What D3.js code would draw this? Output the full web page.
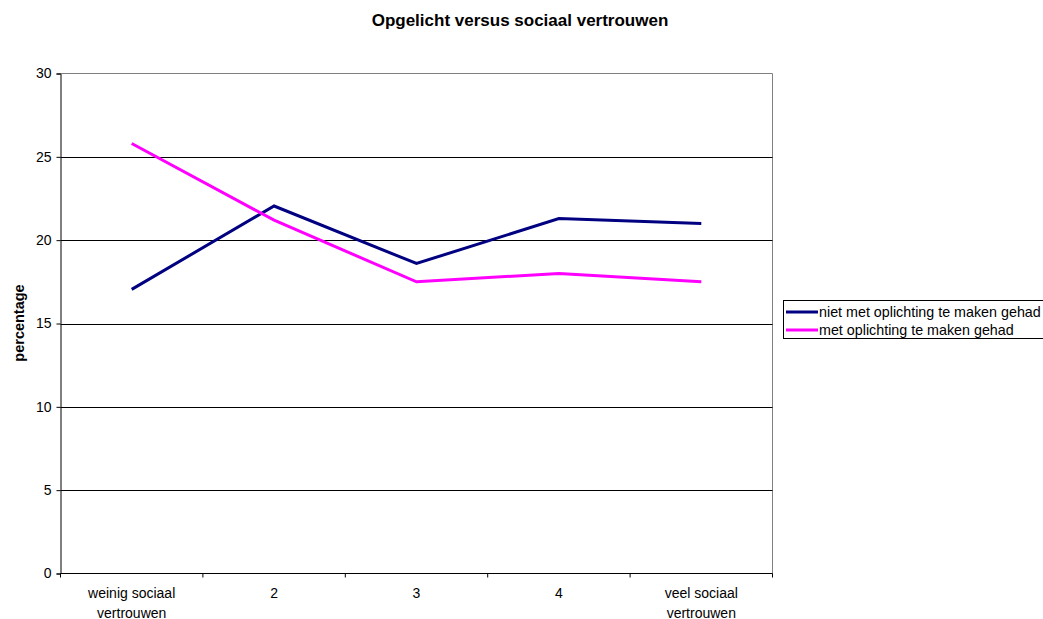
<!DOCTYPE html>
<html><head><meta charset="utf-8">
<script src="https://cdn.jsdelivr.net/npm/d3@7"></script>
<style>body{margin:0;background:#fff;} text{font-family:"Liberation Sans",Arial,sans-serif;}</style>
</head><body><svg id="c" width="1043" height="619"></svg>
<script>
const title = "Opgelicht versus sociaal vertrouwen";
const yLabel = "percentage";
const categories = [["weinig sociaal","vertrouwen"],["2"],["3"],["4"],["veel sociaal","vertrouwen"]];
const seriesNames = ["niet met oplichting te maken gehad","met oplichting te maken gehad"];
const seriesColors = ["#000080","#ff00ff"];
const notScammed = [17.05, 22.05, 18.6, 21.3, 21.0];
const scammed = [25.8, 21.2, 17.5, 18.0, 17.5];
const yTicks = [0,5,10,15,20,25,30];

const svg = d3.select("#c");
const L=60.5, R=772.5, T=73.5, B=573.5;
const x = d3.scaleBand().domain(d3.range(categories.length)).range([L,R]);
const y = d3.scaleLinear().domain([0,30]).range([B,T]);

svg.append("text").attr("x",520).attr("y",26).attr("text-anchor","middle")
  .style("font-size","17px").style("font-weight","bold").text(title);

svg.append("line").attr("x1",L).attr("x2",R).attr("y1",T).attr("y2",T).attr("stroke","#808080");
svg.append("line").attr("x1",R).attr("x2",R).attr("y1",T).attr("y2",B).attr("stroke","#808080");
svg.append("g").selectAll("line").data(yTicks.filter(d=>d>0&&d<30)).join("line")
  .attr("x1",L).attr("x2",R).attr("y1",d=>Math.round(y(d))+0.5).attr("y2",d=>Math.round(y(d))+0.5).attr("stroke","#000");

const ya = svg.append("g").attr("transform",`translate(${L},0)`)
  .call(d3.axisLeft(y).tickValues(yTicks).tickSize(4).tickPadding(5));
ya.select(".domain").attr("stroke","#000");
ya.selectAll("text").style("font-size","14px").style("font-family","Liberation Sans, Arial").attr("fill","#000");

const xa = svg.append("g").attr("transform",`translate(0,${B})`);
xa.append("line").attr("x1",L).attr("x2",R).attr("stroke","#000");
const bounds = d3.range(categories.length+1).map(i=> i<categories.length? x(i): R);
xa.selectAll("line.t").data(bounds).join("line").attr("class","t")
  .attr("x1",d=>d).attr("x2",d=>d).attr("y1",0).attr("y2",4).attr("stroke","#000");
categories.forEach((c,i)=>{
  const t = xa.append("text").attr("text-anchor","middle").style("font-size","14px")
    .attr("x", x(i)+x.bandwidth()/2).attr("y",24);
  c.forEach((s,j)=>t.append("tspan").attr("x",x(i)+x.bandwidth()/2).attr("dy", j? 20: 0).text(s));
});

svg.append("text").attr("transform","translate(24,323) rotate(-90)").attr("text-anchor","middle")
  .style("font-size","14.5px").style("font-weight","bold").text(yLabel);

const line = d3.line().x((d,i)=>x(i)+x.bandwidth()/2).y(d=>y(d));
[notScammed, scammed].forEach((s,k)=>{
  svg.append("path").attr("d",line(s)).attr("fill","none").attr("stroke",seriesColors[k]).attr("stroke-width",3);
});

const lg = svg.append("g");
lg.append("rect").attr("x",783.5).attr("y",300.5).attr("width",262).attr("height",38).attr("fill","#fff").attr("stroke","#000");
seriesNames.forEach((n,k)=>{
  const yy = 312 + k*18;
  lg.append("line").attr("x1",786).attr("x2",818).attr("y1",yy).attr("y2",yy).attr("stroke",seriesColors[k]).attr("stroke-width",3);
  lg.append("text").attr("x",819).attr("y",yy+5).style("font-size","14.3px").text(n);
});
</script></body></html>
